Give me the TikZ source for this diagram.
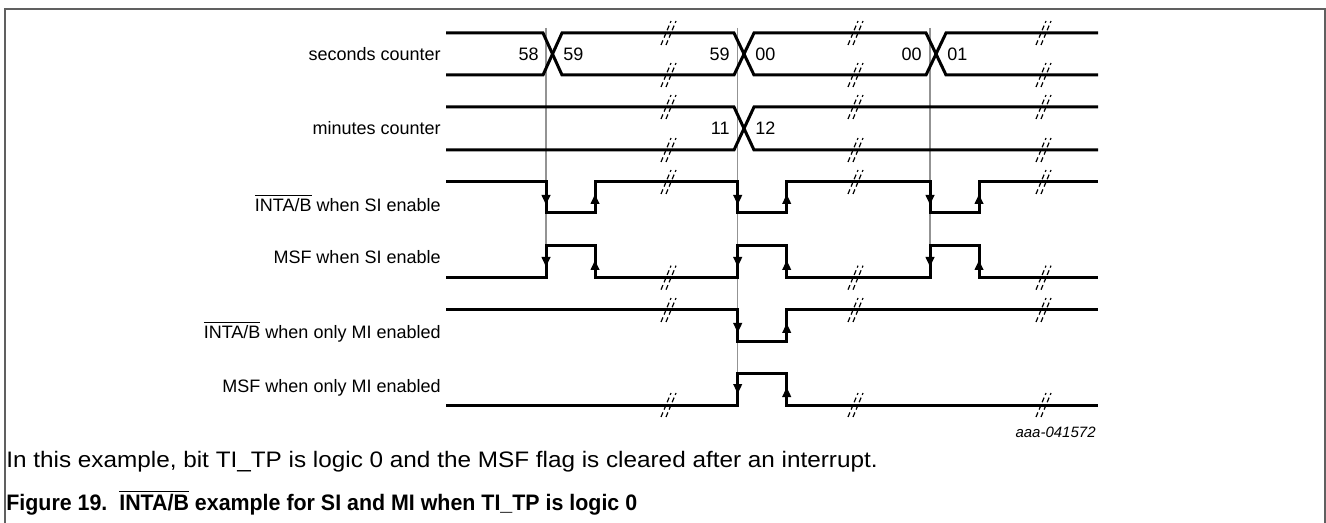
\documentclass[tikz,border=0pt]{standalone}
\usepackage{fontspec}
\setmainfont{Liberation Sans}
\usetikzlibrary{arrows.meta}
\usetikzlibrary{calc}

\tikzset{
  sig/.style={line width=1.5pt},
  refline/.style={gray!85, line width=0.6pt},
  brk/.style={line width=0.6pt, dash pattern=on 2.5pt off 1.5pt},
  lbl/.style={anchor=east, inner sep=0pt, font=\fontsize{9}{10}\selectfont},
  val/.style={inner sep=0pt, font=\fontsize{9}{10}\selectfont},
  dn/.style={-{Triangle[length=5pt,width=4.2pt]}, line width=1.5pt},
  up/.style={-{Triangle[length=5pt,width=4.2pt]}, line width=1.5pt},
}
% marque de coupure
\newcommand{\brkmark}[2]{%
  \draw[brk] (#1-7,#2+12) -- (#1+3,#2-12);
  \draw[brk] (#1-2,#2+12) -- (#1+8,#2-12);
}

\begin{document}
\begin{tikzpicture}[x=0.5pt,y=-0.5pt]
\useasboundingbox (0,0) rectangle (1326,523);
% cadre
\draw[gray!75!black, line width=0.65pt] (5,523) -- (5,9) -- (1325,9) -- (1325,523);

% lignes de reference
\draw[refline] (546,28) -- (546,246);
\draw[refline] (737.7,28) -- (737.7,373);
\draw[refline] (930,28) -- (930,246);

% compteur secondes
\draw[sig] (446,33) -- (543,33) -- (562,75) -- (734,75) -- (754,33) -- (926,33) -- (946,75) -- (1098,75);
\draw[sig] (446,75) -- (543,75) -- (562,33) -- (734,33) -- (754,75) -- (926,75) -- (946,33) -- (1098,33);
% compteur minutes
\draw[sig] (446,107) -- (734,107) -- (754,150) -- (1098,150);
\draw[sig] (446,150) -- (734,150) -- (754,107) -- (1098,107);

% INTA/B SI
\draw[sig] (446,182) -- (546,182) -- (546,213) -- (595,213) -- (595,182)
  -- (737.7,182) -- (737.7,213) -- (786.7,213) -- (786.7,182)
  -- (930,182) -- (930,213) -- (979,213) -- (979,182) -- (1098,182);
% MSF SI
\draw[sig] (446,277.7) -- (546,277.7) -- (546,246) -- (595,246) -- (595,277.7)
  -- (737.7,277.7) -- (737.7,246) -- (786.7,246) -- (786.7,277.7)
  -- (930,277.7) -- (930,246) -- (979,246) -- (979,277.7) -- (1098,277.7);
% INTA/B MI
\draw[sig] (446,310) -- (737.7,310) -- (737.7,342) -- (786.7,342) -- (786.7,310) -- (1098,310);
% MSF MI
\draw[sig] (446,405) -- (737.7,405) -- (737.7,373) -- (786.7,373) -- (786.7,405) -- (1098,405);

% fleches
\foreach \x/\w in {546/595,737.7/786.7,930/979}
  {
  \draw[dn] (\x,188) -- (\x,205);
  \draw[up] (\w,209) -- (\w,194);
  \draw[dn] (\x,250) -- (\x,267);
  \draw[up] (\w,274) -- (\w,260);
  }
\draw[dn] (737.7,316) -- (737.7,333);
\draw[up] (786.7,338) -- (786.7,323);
\draw[dn] (737.7,377) -- (737.7,394);
\draw[up] (786.7,401) -- (786.7,387);

% coupures
\foreach \y in {33,75,107,150,182,277.7,310,405}
    \foreach \x in {668,855,1043}
    {
    \brkmark{\x}{\y}
    }

% valeurs
\node[val, anchor=east] (s58) at (539,54) {58};
\node[val, anchor=west] (s59) at (563,54) {59};
\node[val, anchor=east] (s59b) at (730,54) {59};
\node[val, anchor=west] (s00) at (755,54) {00};
\node[val, anchor=east] (s00b) at (922,54) {00};
\node[val, anchor=west] (s01) at (947,54) {01};
\node[val, anchor=east] (m11) at (730,128) {11};
\node[val, anchor=west] (m12) at (755,128) {12};

% etiquettes
\node[lbl] (lsec) at (441,54) {seconds counter};
\node[lbl] (lmin) at (441,128) {minutes counter};
\node[lbl] (lintsi) at (441,203) {$\overline{\mbox{INTA/B}}$ when SI enable};
\node[lbl] (lmsfsi) at (441,257) {MSF when SI enable};
\node[lbl] (lintmi) at (441,332) {$\overline{\mbox{INTA/B}}$ when only MI enabled};
\node[lbl] (lmsfmi) at (441,388) {MSF when only MI enabled};
\node[val, anchor=east, font=\fontsize{7.5}{9}\selectfont\itshape] (code) at (1096,432) {aaa-041572};

% legende
\node[anchor=west, inner sep=0pt, font=\fontsize{11.2}{13}\selectfont] (note) at (6,462)
  {\scalebox{1.085}[1]{In this example, bit TI\_TP is logic 0 and the MSF flag is cleared after an interrupt.}};
\node[anchor=west, inner sep=0pt, font=\fontsize{11.2}{13}\selectfont\bfseries] (fig) at (6,503)
  {\scalebox{0.955}[1]{Figure 19.\ \ $\overline{\mbox{INTA/B}}$ example for SI and MI when TI\_TP is logic 0}};
\end{tikzpicture}
\end{document}
